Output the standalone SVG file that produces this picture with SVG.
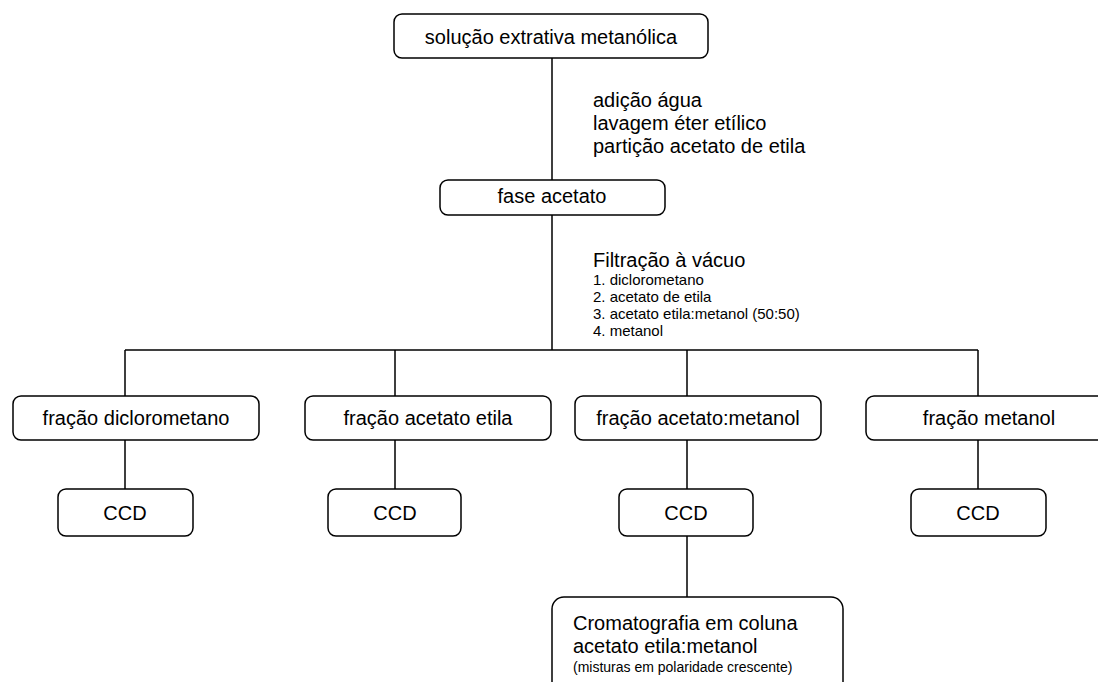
<svg xmlns="http://www.w3.org/2000/svg" width="1098" height="682" viewBox="0 0 1098 682">
<style>
.box{fill:#fff;stroke:#000;stroke-width:1.5}
.t{font-family:"Liberation Sans",Arial,sans-serif;font-size:20px;fill:#000}
.c{text-anchor:middle}
.s{font-size:15px}
.xs{font-size:14px}
.ln{fill:none;stroke:#000;stroke-width:1.5}
</style>
<rect width="1098" height="682" fill="#fff"/>
<g id="connectors">
<path class="ln" d="M552 58V180M552 215V350M125 350H978M125 350V396M395 350V396M687 350V396M978 350V396M125 440V489M395 440V489M687 440V489M978 440V489M687 536V597"/>
</g>
<g id="n-solucao"><rect class="box" x="394" y="14" width="314" height="44" rx="8"/><text class="t c" x="551" y="44">solução extrativa metanólica</text></g>
<g id="lbl-1"><text class="t" x="593" y="107">adição água</text><text class="t" x="593" y="130">lavagem éter etílico</text><text class="t" x="593" y="153">partição acetato de etila</text></g>
<g id="n-fase"><rect class="box" x="440" y="180" width="225" height="35" rx="8"/><text class="t c" x="552" y="203">fase acetato</text></g>
<g id="lbl-2"><text class="t" x="593" y="267">Filtração à vácuo</text><text class="t s" x="593" y="285">1. diclorometano</text><text class="t s" x="593" y="302">2. acetato de etila</text><text class="t s" x="593" y="319">3. acetato etila:metanol (50:50)</text><text class="t s" x="593" y="336">4. metanol</text></g>
<g id="n-f1"><rect class="box" x="13" y="396" width="246" height="44" rx="8"/><text class="t c" x="136" y="425">fração diclorometano</text></g>
<g id="n-f2"><rect class="box" x="305" y="396" width="246" height="44" rx="8"/><text class="t c" x="428" y="425">fração acetato etila</text></g>
<g id="n-f3"><rect class="box" x="575" y="396" width="246" height="44" rx="8"/><text class="t c" x="698" y="425">fração acetato:metanol</text></g>
<g id="n-f4"><rect class="box" x="866" y="396" width="247" height="44" rx="8"/><text class="t c" x="989" y="425">fração metanol</text></g>
<g id="n-c1"><rect class="box" x="58" y="489" width="135" height="47" rx="8"/><text class="t c" x="125" y="520">CCD</text></g>
<g id="n-c2"><rect class="box" x="328" y="489" width="133" height="47" rx="8"/><text class="t c" x="395" y="520">CCD</text></g>
<g id="n-c3"><rect class="box" x="619" y="489" width="134" height="47" rx="8"/><text class="t c" x="686" y="520">CCD</text></g>
<g id="n-c4"><rect class="box" x="911" y="489" width="135" height="47" rx="8"/><text class="t c" x="978" y="520">CCD</text></g>
<g id="n-crom"><rect class="box" x="552" y="597" width="291" height="100" rx="12"/><text class="t" x="573" y="630">Cromatografia em coluna</text><text class="t" x="573" y="653">acetato etila:metanol</text><text class="t xs" x="573" y="672">(misturas em polaridade crescente)</text></g>
</svg>
